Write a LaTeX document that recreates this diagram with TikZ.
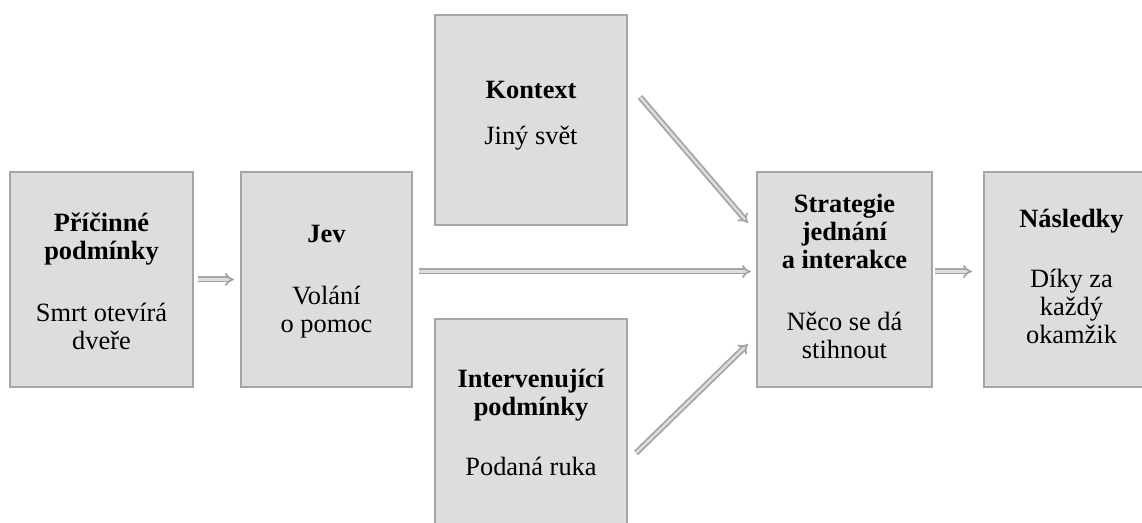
\documentclass[tikz,border=0pt]{standalone}
\usepackage{fontspec}
\setmainfont{Liberation Serif}
\usetikzlibrary{arrows.meta, positioning}
\definecolor{boxfill}{HTML}{DDDDDD}
\definecolor{boxline}{HTML}{A5A5A5}

\begin{document}
\begin{tikzpicture}[box/.style = {draw=boxline, fill=boxfill, line width=1.1pt, outer sep=0pt, inner sep=0pt, minimum width=#1, minimum height=107.5pt},
    box/.default=87.5pt,
    txt/.style = {anchor=base, align=center, font=\fontsize{13.2}{14}\selectfont},
    flow/.style = {draw=boxline, double=boxfill, double distance=1.2pt, line width=0.9pt, -{Implies}}]
    \clip (0,0) rectangle (571pt,-261.5pt);

    \node[box=91.5pt, anchor=north west] (pric) at (5pt,-86pt) {};
    \node[box=85.5pt, right=24pt of pric] (jev) {};
    \node[box=96pt, minimum height=105pt, anchor=north west] (kon) at (217.5pt,-7.5pt) {};
    \node[box=96pt, minimum height=105pt, anchor=north west] (int) at (217.5pt,-159.5pt) {};
    \node[box, right=172.5pt of jev] (str) {};
    \node[box, right=26pt of str] (nas) {};

    % texty v ramecku (base = posledni radek)
    \node[txt] (pricT) at ([yshift=-89pt]pric.north) {\textbf{Příčinné}\\\textbf{podmínky}\\[17pt]Smrt otevírá\\dveře};
    \node[txt] (jevT) at ([yshift=-80.5pt]jev.north) {\textbf{Jev}\\[17pt]Volání\\o pomoc};
    \node[txt] (konT) at ([yshift=-65pt]kon.north) {\textbf{Kontext}\\[9pt]Jiný svět};
    \node[txt] (intT) at ([yshift=-78.5pt]int.north) {\textbf{Intervenující}\\\textbf{podmínky}\\[16pt]Podaná ruka};
    \node[txt] (strT) at ([yshift=-93.5pt]str.north) {\textbf{Strategie}\\\textbf{jednání}\\\textbf{a interakce}\\[17pt]Něco se dá\\stihnout};
    \node[txt] (nasT) at ([yshift=-86pt]nas.north) {\textbf{Následky}\\[16pt]Díky za\\každý\\okamžik};

    \draw[flow, shorten <=2.5pt, shorten >=3.5pt] (pric) -- (jev);
    \draw[flow, shorten <=3.5pt, shorten >=3pt] ([yshift=4pt]jev.east) -- ([yshift=4pt]str.west);
    \draw[flow] ([shift={(6.5pt,11.5pt)}]kon.east) -- ([shift={(-4.5pt,-25.5pt)}]str.north west);
    \draw[flow] ([shift={(4.5pt,-14.5pt)}]int.east) -- ([shift={(-4.5pt,21.5pt)}]str.south west);
    \draw[flow, shorten <=1.5pt, shorten >=6pt] ([yshift=4pt]str.east) -- ([yshift=4pt]nas.west);
\end{tikzpicture}
\end{document}
